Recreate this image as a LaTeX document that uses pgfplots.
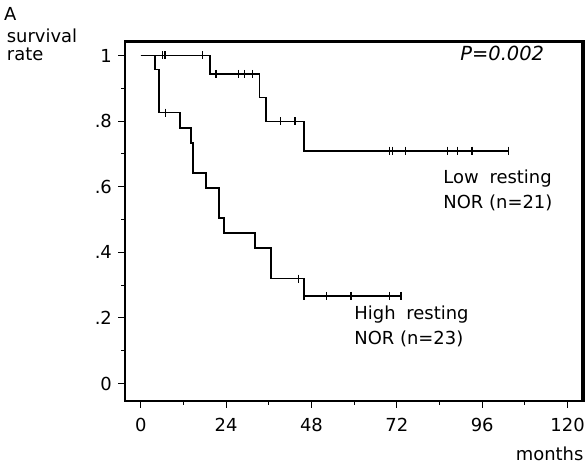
\documentclass[border=0pt]{standalone}
\usepackage{fontspec}
\setmainfont{DejaVu Sans}
\usepackage{pgfplots}
\pgfplotsset{compat=1.18}
\begin{document}
\fontsize{18}{22}\selectfont
\begin{tikzpicture}
\useasboundingbox (-125bp,-65.3bp) rectangle (461.7bp,400.7bp);
\begin{axis}[
  at={(0bp,0bp)}, anchor=south west,
  scale only axis, width=458.3bp, height=360bp,
  axis lines=box,
  xmin=-4.4, xmax=124.5, ymin=-0.053, ymax=1.045,
  xtick={0,24,48,72,96,120}, minor xtick={12,36,60,84,108},
  ytick={0,0.2,0.4,0.6,0.8,1}, yticklabels={0,.2,.4,.6,.8,1},
  minor ytick={0.1,0.3,0.5,0.7,0.9},
  tick align=outside, xtick pos=bottom, ytick pos=left,
  major tick length=7bp, minor tick length=4bp,
  every tick/.style={black, line width=1bp},
  axis line style={line width=2bp, black},
  /pgf/number format/assume math mode=true,
  xticklabel style={font=\fontsize{18}{20}\selectfont, yshift=-4bp},
  yticklabel style={font=\fontsize{18}{20}\selectfont},
  clip=false,
]
% High resting NOR (n=23)
\addplot[const plot, black, line width=1.8bp] coordinates {
(0,1) (4.0,0.957) (5.1,0.826) (11.1,0.780) (14.1,0.734) (14.8,0.642)
(18.3,0.596) (22.0,0.504) (23.4,0.458) (32.2,0.412) (36.6,0.320)
(45.9,0.267) (73.2,0.267)};
\addplot[only marks, mark=|, mark size=4bp, black, mark options={line width=1.3bp}] coordinates {
(7.0,0.826) (44.3,0.320) (45.9,0.267) (52.2,0.267) (59.1,0.267) (69.9,0.267) (73.2,0.267)};
% Low resting NOR (n=21)
\addplot[const plot, black, line width=1.8bp] coordinates {
(0,1) (19.5,0.944) (33.4,0.872) (35.2,0.799) (46.0,0.710) (103.4,0.710)};
\addplot[only marks, mark=|, mark size=4bp, black, mark options={line width=1.3bp}] coordinates {
(6.2,1) (6.8,1) (17.3,1) (21.2,0.944) (27.5,0.944) (29.1,0.944) (31.4,0.944)
(39.2,0.799) (43.4,0.799) (69.9,0.710) (70.7,0.710) (74.4,0.710) (86.2,0.710)
(89.1,0.710) (93.1,0.710) (103.4,0.710)};
\end{axis}
\draw[black, line width=2bp] (0bp,0bp) rectangle (458.3bp,360bp);
\draw[black, line width=3bp] (0bp,359bp) -- (457.3bp,359bp) -- (457.3bp,0bp);
\node[anchor=base west, inner sep=0pt] at (-121bp,380.7bp) {A};
\node[anchor=base west, inner sep=0pt] at (-118.3bp,358.7bp) {survival};
\node[anchor=base west, inner sep=0pt] at (-118.3bp,340bp) {rate};
\node[anchor=base west, inner sep=0pt] at (335bp,340bp) {\fontsize{19.5}{22}\selectfont\itshape P=0.002};
\node[anchor=base west, inner sep=0pt] at (318bp,217.7bp) {Low\hspace{0.6em}resting};
\node[anchor=base west, inner sep=0pt] at (318bp,192.7bp) {NOR (n=21)};
\node[anchor=base west, inner sep=0pt] at (229bp,81.7bp) {High\hspace{0.6em}resting};
\node[anchor=base west, inner sep=0pt] at (229bp,56.7bp) {NOR (n=23)};
\node[anchor=base east, inner sep=0pt] at (458.3bp,-59.3bp) {months};
\end{tikzpicture}
\end{document}
